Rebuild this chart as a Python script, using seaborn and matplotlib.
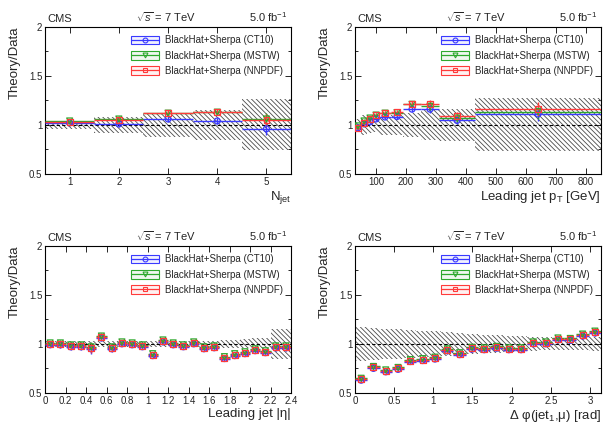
import numpy as np
import seaborn as sns
import matplotlib
matplotlib.use('Agg')
import matplotlib.pyplot as plt
from matplotlib.patches import Patch
from matplotlib.lines import Line2D
from matplotlib.ticker import MultipleLocator, FormatStrFormatter

# ---- data (theory / data ratios) ----
# N_jet
njet_edges = [0.5, 1.5, 2.5, 3.5, 4.5, 5.5]
njet_band = [0.04, 0.08, 0.12, 0.15, 0.26]
njet_ct10 = [1.02, 1.01, 1.06, 1.04, 0.96]
njet_mstw = [1.04, 1.06, 1.12, 1.13, 1.06]
njet_nnpdf = [1.03, 1.05, 1.12, 1.13, 1.05]
njet_err = [0.02, 0.03, 0.03, 0.03, 0.06]

# leading jet pT
pt_edges = [30, 50, 70, 90, 110, 150, 190, 250, 310, 430, 850]
pt_band = [0.06, 0.10, 0.08, 0.07, 0.10, 0.10, 0.12, 0.15, 0.16, 0.27]
pt_ct10 = [0.97, 1.01, 1.03, 1.06, 1.08, 1.085, 1.16, 1.16, 1.045, 1.11]
pt_mstw = [0.99, 1.04, 1.07, 1.10, 1.12, 1.125, 1.21, 1.19, 1.07, 1.135]
pt_nnpdf = [0.97, 1.02, 1.06, 1.10, 1.12, 1.13, 1.21, 1.21, 1.095, 1.16]
pt_err = [0.02, 0.02, 0.02, 0.02, 0.02, 0.02, 0.03, 0.04, 0.04, 0.07]

# leading jet |eta|
eta_edges = [0.0, 0.1, 0.2, 0.3, 0.4, 0.5, 0.6, 0.7, 0.8, 0.9, 1.0, 1.1, 1.2,
             1.3, 1.4, 1.5, 1.6, 1.7, 1.8, 1.9, 2.0, 2.1, 2.2, 2.3, 2.4]
eta_band = [0.03, 0.03, 0.03, 0.03, 0.03, 0.03, 0.03, 0.03, 0.03, 0.03, 0.03, 0.03,
            0.03, 0.03, 0.03, 0.03, 0.03, 0.04, 0.04, 0.045, 0.06, 0.06, 0.15, 0.15]
eta_ct10 = [0.99, 0.99, 0.97, 0.97, 0.95, 1.06, 0.95, 1.00, 0.99, 0.97, 0.88, 1.02,
            0.99, 0.97, 1.00, 0.95, 0.96, 0.85, 0.88, 0.90, 0.93, 0.91, 0.96, 0.96]
eta_mstw = [1.01, 1.01, 0.99, 0.99, 0.97, 1.08, 0.97, 1.02, 1.01, 0.99, 0.90, 1.04,
            1.01, 0.99, 1.02, 0.97, 0.98, 0.87, 0.90, 0.92, 0.95, 0.93, 0.98, 0.98]
eta_nnpdf = [1.00, 1.00, 0.98, 0.98, 0.96, 1.07, 0.96, 1.01, 1.00, 0.98, 0.89, 1.03,
             1.00, 0.98, 1.01, 0.96, 0.97, 0.86, 0.89, 0.91, 0.94, 0.92, 0.97, 0.97]
eta_err = [0.02, 0.03, 0.03, 0.03, 0.05, 0.03, 0.03, 0.02, 0.02, 0.02, 0.02, 0.02,
           0.02, 0.02, 0.02, 0.02, 0.02, 0.02, 0.02, 0.02, 0.02, 0.02, 0.03, 0.03]

# delta phi(jet1, mu)
dphi_edges = [0.0, 0.157, 0.314, 0.471, 0.628, 0.785, 0.942, 1.100, 1.257, 1.414, 1.571,
              1.728, 1.885, 2.042, 2.199, 2.356, 2.513, 2.670, 2.827, 2.985, 3.1416]
dphi_band = [0.17, 0.16, 0.155, 0.15, 0.14, 0.135, 0.13, 0.12, 0.11, 0.10,
             0.095, 0.09, 0.085, 0.08, 0.07, 0.065, 0.06, 0.06, 0.065, 0.07]
dphi_ct10 = [0.63, 0.75, 0.715, 0.74, 0.82, 0.83, 0.845, 0.93, 0.89, 0.945,
             0.94, 0.955, 0.94, 0.94, 1.00, 1.00, 1.04, 1.035, 1.08, 1.11]
dphi_mstw = [0.65, 0.77, 0.735, 0.76, 0.84, 0.85, 0.865, 0.95, 0.91, 0.965,
             0.96, 0.975, 0.96, 0.96, 1.02, 1.02, 1.06, 1.055, 1.10, 1.13]
dphi_nnpdf = [0.64, 0.765, 0.725, 0.75, 0.83, 0.84, 0.855, 0.94, 0.90, 0.955,
              0.95, 0.965, 0.95, 0.95, 1.01, 1.01, 1.05, 1.045, 1.09, 1.12]
dphi_err = [0.02, 0.02, 0.02, 0.02, 0.02, 0.02, 0.02, 0.03, 0.02, 0.02,
            0.02, 0.02, 0.02, 0.02, 0.02, 0.02, 0.02, 0.02, 0.03, 0.03]

labels = ['BlackHat+Sherpa (CT10)', 'BlackHat+Sherpa (MSTW)', 'BlackHat+Sherpa (NNPDF)']
colors = ['#3a3aff', '#2ea82e', '#ff3a3a']
markers = ['o', 'v', 's']

sns.set_style('ticks')
plt.rcParams['font.family'] = ['Liberation Sans', 'DejaVu Sans']
plt.rcParams['mathtext.fontset'] = 'custom'
plt.rcParams['mathtext.rm'] = 'Liberation Sans'
plt.rcParams['mathtext.it'] = 'Liberation Sans:italic'
plt.rcParams['mathtext.sf'] = 'Liberation Sans'
plt.rcParams['hatch.linewidth'] = 0.6

fig = plt.figure(figsize=(6.06, 4.26), dpi=100)
W, H = 0.406, 0.346
ax1 = fig.add_axes([0.0743, 0.5915, W, H])
ax2 = fig.add_axes([0.5858, 0.5915, W, H])
ax3 = fig.add_axes([0.0743, 0.0775, W, H])
ax4 = fig.add_axes([0.5858, 0.0775, W, H])


def draw_panel(ax, edges, band, series, err, xlabel, xticks, xfmt):
    edges = np.array(edges)
    centers = (edges[:-1] + edges[1:]) / 2
    halfw = (edges[1:] - edges[:-1]) / 2
    band = np.array(band)

    # data uncertainty band (hatched)
    ax.bar(edges[:-1], 2 * band, bottom=1 - band, width=edges[1:] - edges[:-1],
           align='edge', facecolor='none', edgecolor='#4a4a4a', hatch='\\' * 7,
           linewidth=0, zorder=1)
    ax.axhline(1, color='black', ls='--', lw=0.8, dashes=(3, 2), zorder=2)

    for vals, c, m in zip(series, colors, markers):
        ax.errorbar(centers, vals, xerr=halfw, yerr=err, fmt='none',
                    ecolor=c, elinewidth=1.0, capsize=0, zorder=3)
        sns.scatterplot(x=centers, y=vals, marker=m, s=18, color=c,
                        facecolor='none', edgecolor=c, linewidth=0.9,
                        ax=ax, zorder=4)

    ax.set_xlim(edges[0], edges[-1])
    ax.set_ylim(0.5, 2)
    ax.set_xticks(xticks)
    ax.xaxis.set_major_formatter(xfmt)
    ax.yaxis.set_major_locator(MultipleLocator(0.5))
    ax.yaxis.set_minor_locator(MultipleLocator(0.25))
    ax.yaxis.set_major_formatter(FormatStrFormatter('%g'))
    ax.tick_params(which='both', direction='in', top=True, right=True,
                   width=0.7, labelsize=7, pad=2)
    ax.tick_params(which='major', length=4)
    ax.tick_params(which='minor', length=2)
    for s in ax.spines.values():
        s.set_linewidth(0.8)
        s.set_color('black')

    ax.set_xlabel(xlabel, fontsize=9.5, loc='right')
    ax.xaxis.set_label_coords(1.0, -0.1)
    ax.set_ylabel('Theory/Data', fontsize=9.5, loc='top')
    ax.yaxis.set_label_coords(-0.1, 1.0)

    ax.text(0.01, 1.03, 'CMS', transform=ax.transAxes, fontsize=8, va='baseline')
    ax.text(0.49, 1.03, r'$\sqrt{s}$ = 7 TeV', transform=ax.transAxes,
            fontsize=8, va='baseline', ha='center')
    ax.text(0.985, 1.03, r'5.0 fb$^{-1}$', transform=ax.transAxes,
            fontsize=8, va='baseline', ha='right')

    handles = []
    for c, m in zip(colors, markers):
        box = Patch(facecolor=c, alpha=0.07, edgecolor='none')
        edge = Patch(facecolor='none', edgecolor=c, linewidth=0.8)
        line = Line2D([], [], color=c, lw=0.9, marker=m, ms=3.5,
                      mfc='none', mec=c, mew=0.8)
        handles.append((box, edge, line))
    ax.legend(handles, labels, loc='upper left', bbox_to_anchor=(0.35, 0.94),
              frameon=False, fontsize=7, handlelength=2.9, handleheight=1.0,
              handletextpad=0.6, labelspacing=0.55, borderpad=0, borderaxespad=0)


draw_panel(ax1, njet_edges, njet_band, [njet_ct10, njet_mstw, njet_nnpdf], njet_err,
           r'N$_{\mathrm{jet}}$', [1, 2, 3, 4, 5], FormatStrFormatter('%g'))
draw_panel(ax2, pt_edges, pt_band, [pt_ct10, pt_mstw, pt_nnpdf], pt_err,
           r'Leading jet p$_{\mathrm{T}}$ [GeV]', [100, 200, 300, 400, 500, 600, 700, 800],
           FormatStrFormatter('%g'))
draw_panel(ax3, eta_edges, eta_band, [eta_ct10, eta_mstw, eta_nnpdf], eta_err,
           'Leading jet |η|', np.round(np.arange(0, 2.41, 0.2), 1), FormatStrFormatter('%g'))
draw_panel(ax4, dphi_edges, dphi_band, [dphi_ct10, dphi_mstw, dphi_nnpdf], dphi_err,
           r'Δ φ(jet$_{\mathrm{1}}$,μ) [rad]', [0, 0.5, 1, 1.5, 2, 2.5, 3],
           FormatStrFormatter('%g'))

fig.savefig('out.png', dpi=100)
